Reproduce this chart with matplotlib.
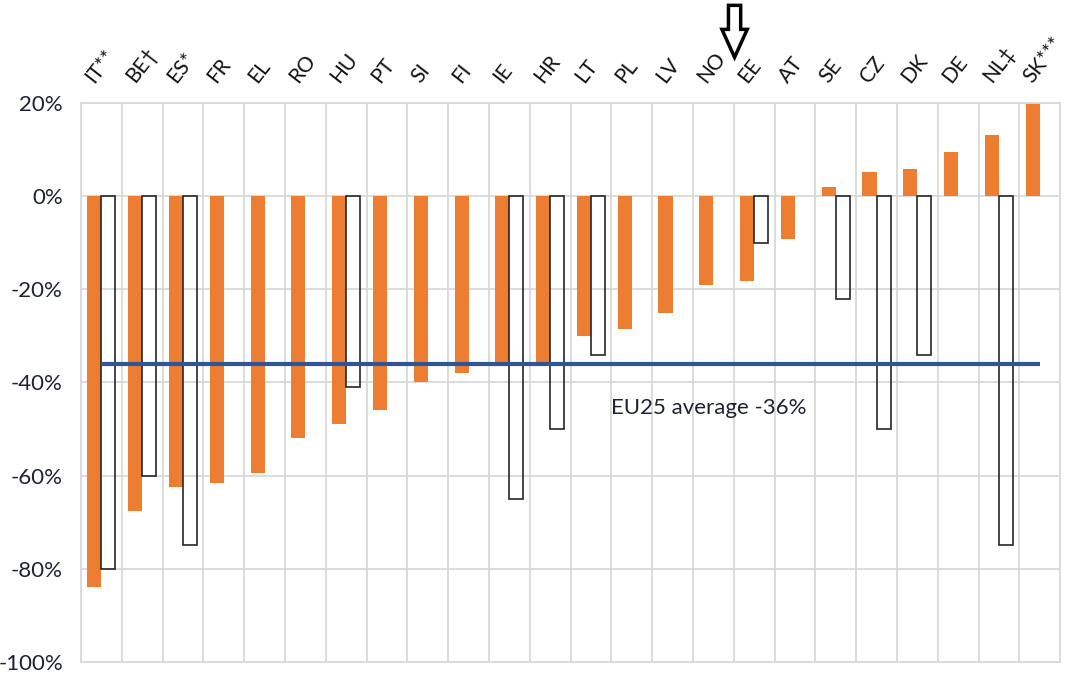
import numpy as np
import matplotlib.pyplot as plt
from matplotlib.patches import FancyArrow
from matplotlib.ticker import FuncFormatter, MultipleLocator
import matplotlib.transforms as mtransforms

paises = ["IT**", "BE†", "ES*", "FR", "EL", "RO", "HU", "PT", "SI", "FI", "IE", "HR",
          "LT", "PL", "LV", "NO", "EE", "AT", "SE", "CZ", "DK", "DE", "NL‡", "SK***"]
cambio = [-84, -67.5, -62.5, -61.5, -59.5, -52, -49, -46, -40, -38, -36.5, -35.5,
          -30, -28.5, -25, -19, -18.3, -9.2, 1.9, 5.2, 5.9, 9.5, 13.1, 20]
objetivo = [-80, -60, -75, np.nan, np.nan, np.nan, -41, np.nan, np.nan, np.nan, -65, -50,
            -34, np.nan, np.nan, np.nan, -10, np.nan, -22, -50, -34, np.nan, -75, np.nan]
promedio_eu = -36

NARANJA = "#ED7D31"
AZUL = "#2F5597"
GRIS = "#D9D9D9"
TEXTO = "#1F2330"
FUENTE = ["Lato", "DejaVu Sans"]

plt.rcParams["font.family"] = FUENTE


def grafica():
    fig = plt.figure(figsize=(10.73, 6.74), dpi=100)
    ax = fig.add_axes([0.0755, 0.018, 0.9125, 0.829])
    x = np.arange(len(paises))
    ancho = 0.345

    ax.bar(x - ancho / 2, cambio, width=ancho, color=NARANJA, zorder=2)
    ax.bar(x + ancho / 2, objetivo, width=ancho, facecolor="none",
           edgecolor="#262626", linewidth=1.2, zorder=3)
    ax.plot(x, [promedio_eu] * len(x), color=AZUL, linewidth=3, zorder=4,
            solid_capstyle="butt")
    ax.text(12.5, -45.5, f"EU25 average {promedio_eu}%", fontsize=16,
            color=TEXTO, ha="left", va="center")

    # rejilla: horizontales cada 20 %, verticales entre categorías
    ax.set_ylim(-100, 20)
    ax.set_xlim(-0.5, len(paises) - 0.5)
    ax.yaxis.set_major_locator(MultipleLocator(20))
    ax.yaxis.set_major_formatter(FuncFormatter(lambda v, _: f"{v:.0f}%"))
    ax.set_xticks(x - 0.5, minor=True)
    ax.set_xticks([])
    ax.grid(True, axis="y", color=GRIS, linewidth=1.3, zorder=0)
    ax.grid(True, axis="x", which="minor", color=GRIS, linewidth=1.3, zorder=0)
    ax.set_axisbelow(True)
    for lado in ax.spines.values():
        lado.set_color(GRIS)
        lado.set_linewidth(1.3)
    ax.tick_params(axis="y", length=0, pad=13, labelsize=16, labelcolor=TEXTO)
    ax.tick_params(axis="x", which="both", length=0)

    # etiquetas de países arriba, giradas
    trans = mtransforms.blended_transform_factory(ax.transData, ax.transAxes)
    for i, nombre in enumerate(paises):
        ax.text(i - 0.1, 1.03, nombre, transform=trans, rotation=52,
                rotation_mode="anchor", ha="left", va="bottom", fontsize=15,
                color="#111111", clip_on=False)

    # flecha hueca entre NO y EE
    flecha = FancyArrow(15.52, 1.175, 0, -0.093, width=0.3, head_width=0.62,
                        head_length=0.05, length_includes_head=True,
                        facecolor="white", edgecolor="black", linewidth=2.5,
                        transform=trans, clip_on=False, zorder=5)
    ax.add_patch(flecha)
    return fig


def main():
    fig = grafica()
    fig.savefig("out.png", dpi=100)


if __name__ == "__main__":
    main()
